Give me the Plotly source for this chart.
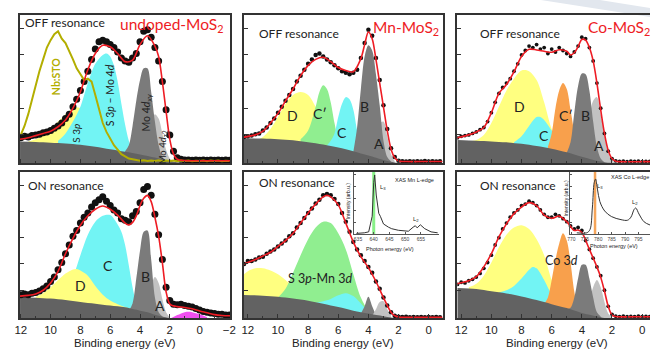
import plotly.graph_objects as go

W, H = 656, 349

# ---------------- energy grids (binding energy, eV) ----------------
DOT_E_A = [12.0, 11.75, 11.5, 11.25, 11.0, 10.75, 10.5, 10.25, 10.0, 9.75, 9.5, 9.25, 9.0, 8.75, 8.5, 8.25,
           8.0, 7.75, 7.5, 7.25, 7.0, 6.75, 6.5, 6.25, 6.0, 5.75, 5.5, 5.25, 5.0, 4.75, 4.5, 4.25, 4.0, 3.75,
           3.5, 3.25, 3.0, 2.75, 2.5, 2.25, 2.0, 1.75, 1.5, 1.25, 1.0, 0.75, 0.5, 0.25, 0.0, -0.25, -0.5,
           -0.75, -1.0, -1.25, -1.5, -1.75, -2.0]
DOT_E_B = [12.25, 12.0, 11.75, 11.5, 11.25, 11.0, 10.75, 10.5, 10.25, 10.0, 9.75, 9.5, 9.25, 9.0, 8.75, 8.5,
           8.25, 8.0, 7.75, 7.5, 7.25, 7.0, 6.75, 6.5, 6.25, 6.0, 5.75, 5.5, 5.25, 5.0, 4.75, 4.5, 4.25, 4.0,
           3.75, 3.5, 3.25, 3.0, 2.75, 2.5, 2.25, 2.0, 1.75, 1.5, 1.25, 1.0, 0.75, 0.5, 0.25, 0.0, -0.25,
           -0.5, -0.75]
DOT_E_C = DOT_E_B[:-1]

# ---------------- undoped MoS2, OFF resonance ----------------
U_OFF_DOT = [17, 18, 17.5, 18.5, 19, 19.5, 20.5, 21, 22, 23.5, 25, 27, 30, 33, 38, 43, 49, 55, 62, 70, 77,
             82, 83, 82, 80, 78, 75, 71, 69, 68, 71, 74, 82, 89, 90, 85, 78, 69, 55, 36, 19, 8, 3.5, 2.5, 2,
             2, 1.8, 2, 1.8, 2, 1.8, 2, 1.8, 2, 1.8, 2, 1.8]
U_OFF_FIT_E = [12.05, 11.5, 11.0, 10.5, 10.0, 9.5, 9.0, 8.5, 8.0, 7.5, 7.0, 6.5, 6.0, 5.5, 5.0, 4.5, 4.0,
               3.5, 3.0, 2.75, 2.5, 2.25, 2.0, 1.75, 1.5, 1.0, 0.0, -1.0, -2.05]
U_OFF_FIT = [16, 17, 18.5, 20, 21.5, 24.5, 29, 37, 48, 63, 74, 79.5, 78.5, 74, 68.5, 69.5, 80, 86, 79, 72,
             55, 35, 16, 6, 2.5, 1.6, 1.5, 1.5, 1.5]
NBSTO = [19, 25, 33, 43, 52, 62, 70, 78, 83, 87, 89, 84, 81, 76, 70, 64, 60, 56, 57, 55, 46, 36, 27, 21, 16,
         12, 9, 6, 4.5, 3, 2.5, 2, 1.5, 1.8, 1.3, 1.7, 1.4, 1.8, 1.2, 1.6, 1.3, 1.7, 1.2, 1.6, 1.3, 1.7, 1.2,
         1.5, 1.3, 1.7, 1.2, 1.6, 1.3, 1.6, 1.2, 1.5, 1.4]
U_OFF_BG_E = [12.05, 11, 10, 9, 8, 7, 6, 5, 4, 3, 2.5, 2, 1.5, 1, 0, -2.05]
U_OFF_BG = [14.5, 14.2, 13.7, 13.2, 12.3, 11, 9.3, 7.6, 5.8, 3.7, 2.5, 1.3, 0.5, 0.2, 0, 0]
U_OFF_S3P_E = [11.5, 11, 10.5, 10, 9.5, 9, 8.5, 8.25, 8, 7.5, 7, 6.5, 6, 5.5, 5, 4.5]
U_OFF_S3P = [14.5, 16, 19, 23, 28, 33, 37, 37.6, 37, 34, 28, 21, 15, 11, 8, 7]
U_OFF_SMO_E = [9.5, 9, 8.5, 8, 7.5, 7, 6.5, 6.25, 6, 5.75, 5.5, 5.25, 5, 4.75, 4.5, 4.25]
U_OFF_SMO = [15, 20, 28, 38, 54, 67, 73, 74, 72, 66, 55, 40, 26, 15, 8, 6]
U_OFF_DZ2_E = [3.75, 3.5, 3.25, 3.0, 2.75, 2.5, 2.25, 2.0, 1.75]
U_OFF_DZ2 = [5, 14, 26, 33, 30, 20, 9, 3, 0.5]
U_OFF_DXY_E = [5.0, 4.75, 4.5, 4.25, 4.0, 3.75, 3.5, 3.25, 3.0, 2.75, 2.5, 2.25]
U_OFF_DXY = [8, 12, 25, 42, 56, 64, 64, 48, 28, 12, 4, 1]

# ---------------- Mn-MoS2, OFF resonance ----------------
MN_OFF_DOT = [17.5, 18, 18.5, 19.5, 20, 22, 24, 27, 30, 34, 38, 42, 46, 50, 55, 59, 63, 67, 70, 73, 74, 72,
              70, 68, 66, 64, 62, 61, 60, 61, 63, 71, 81, 90, 86, 71, 56, 39, 23, 10, 4, 1.5, 1.2, 1, 1.2, 1,
              1.2, 1, 1.3, 1, 1.2, 1, 1.1]
MN_OFF_FIT_E = [12.26, 11.5, 11.0, 10.5, 10.0, 9.5, 9.0, 8.5, 8.0, 7.5, 7.0, 6.5, 6.0, 5.5, 5.0, 4.5, 4.25,
                4.0, 3.75, 3.5, 3.25, 3.0, 2.75, 2.5, 2.25, 2.0, 1.5, 0.0, -0.92]
MN_OFF_FIT = [17.5, 19, 21.5, 27, 33.5, 42, 50, 59, 66, 70, 71.4, 68.5, 64.5, 62.5, 61.7, 70.5, 80, 88.5,
              84, 70, 54, 38, 22, 9.5, 3.5, 1.3, 1, 1, 1]
MN_OFF_BG_E = [12.26, 11, 10, 9, 8, 7, 6, 5, 4, 3, 2.5, 2, -0.92]
MN_OFF_BG = [16.7, 16.5, 16, 15.3, 14, 12.5, 10.5, 8, 5, 2, 0.8, 0, 0]
MN_OFF_D_E = [11.25, 11.0, 10.5, 10.0, 9.5, 9.0, 8.5, 8.0, 7.5, 7.0, 6.5, 6.0, 5.5]
MN_OFF_D = [16, 17.5, 23, 31, 40, 46, 48, 46, 38, 27, 18, 13, 11]
MN_OFF_CP_E = [8.5, 8.0, 7.5, 7.25, 7.0, 6.75, 6.5, 6.25, 6.0, 5.75, 5.5]
MN_OFF_CP = [16, 22, 38, 48, 52.5, 50, 41, 27, 16, 11, 9.5]
MN_OFF_C_E = [6.75, 6.5, 6.25, 6.0, 5.75, 5.5, 5.25, 5.0, 4.75, 4.5, 4.25]
MN_OFF_C = [12, 15, 20, 31, 40, 44.5, 43, 36, 22, 11, 6.5]
MN_OFF_A_E = [4.0, 3.75, 3.5, 3.25, 3.0, 2.75, 2.5, 2.25]
MN_OFF_A = [5, 12, 20, 27, 28, 18, 6, 1]
MN_OFF_B_E = [5.0, 4.75, 4.5, 4.25, 4.0, 3.75, 3.5, 3.25, 3.0, 2.75, 2.5]
MN_OFF_B = [7.5, 24, 50, 72, 79.5, 76, 60, 39, 15, 4, 1]

# ---------------- Co-MoS2, OFF resonance ----------------
CO_OFF_DOT = [17, 18, 18.5, 19, 20, 21, 22.5, 24, 28, 34, 41, 47, 51, 54, 57, 62, 67, 73, 76, 79, 78, 80,
              77, 78, 74, 77, 75, 78, 76, 74, 72, 75, 79, 85, 84, 78, 69, 54, 37, 20, 8, 3, 1.5, 1, 1.3, 0.9,
              1.2, 1, 1.3, 0.9, 1.1, 1]
CO_OFF_FIT_E = [12.26, 11.5, 11.0, 10.5, 10.0, 9.5, 9.0, 8.5, 8.0, 7.5, 7.0, 6.5, 6.0, 5.5, 5.0, 4.75, 4.5,
                4.25, 4.0, 3.75, 3.5, 3.25, 3.0, 2.75, 2.5, 2.25, 2.0, 1.75, 1.5, 0.0, -0.52]
CO_OFF_FIT = [17, 19, 21, 24, 34, 47, 53, 61.5, 72, 76.8, 76.4, 75.5, 74.8, 76.5, 75.5, 73, 74.5, 78.6,
              83.5, 83, 78, 69, 54, 36, 20, 8.5, 3, 1.2, 0.9, 0.9, 0.9]
CO_OFF_BG_E = [12.26, 11, 10, 9, 8, 7, 6, 5, 4, 3, 2.5, 2, -0.52]
CO_OFF_BG = [15.5, 15, 14.6, 14, 13, 11.5, 9.7, 7.3, 4.2, 1.5, 0.5, 0, 0]
CO_OFF_D_E = [11.25, 11.0, 10.5, 10.0, 9.5, 9.0, 8.5, 8.0, 7.5, 7.0, 6.5, 6.0, 5.5, 5.0]
CO_OFF_D = [15, 15.5, 19, 27, 38, 49, 57, 62.5, 62, 56, 41, 23, 13, 8]
CO_OFF_C_E = [8.5, 8.0, 7.5, 7.0, 6.75, 6.5, 6.0, 5.5, 5.0, 4.5, 4.25]
CO_OFF_C = [14, 18, 25, 31, 31, 29, 22, 16, 10, 5.5, 4.5]
CO_OFF_CP_E = [6.25, 6.0, 5.75, 5.5, 5.25, 5.0, 4.75, 4.5, 4.25, 4.0]
CO_OFF_CP = [11, 20, 37, 49, 54, 50, 36, 21, 11, 6]
CO_OFF_A_E = [4.0, 3.75, 3.5, 3.25, 3.0, 2.75, 2.5, 2.25, 2.0, 1.75]
CO_OFF_A = [8, 16, 30, 42, 44.5, 33, 19, 7, 2, 0.3]
CO_OFF_B_E = [5.0, 4.75, 4.5, 4.25, 4.0, 3.75, 3.5, 3.25, 3.0, 2.75, 2.5]
CO_OFF_B = [7, 14, 34, 52, 60.5, 60, 49, 28, 11, 3, 0.5]

# ---------------- undoped MoS2, ON resonance ----------------
U_ON_DOT = [16, 16.5, 16, 17, 17.5, 18.5, 20, 22, 25, 28, 33, 38, 44, 50, 56, 60, 65, 69, 72, 76, 79, 81,
            83, 80, 77, 74, 72, 68, 67, 66, 70, 73, 79, 88, 90, 84, 71, 57, 40, 21, 12, 9.5, 9, 9.5, 8.5, 8,
            7.5, 6.5, 5.5, 4.5, 4, 3.5, 3, 2.5, 2.5, 2, 2]
U_ON_FIT_E = [12.05, 11.5, 11.0, 10.5, 10.0, 9.5, 9.0, 8.5, 8.0, 7.5, 7.0, 6.5, 6.0, 5.5, 5.0, 4.75, 4.5,
              4.25, 4.0, 3.75, 3.5, 3.25, 3.0, 2.75, 2.5, 2.25, 2.0, 1.75, 1.5, 1.0, 0.5, 0.0, -0.5, -1.0,
              -1.5, -2.05]
U_ON_FIT = [15, 15.5, 16.5, 19, 24, 32, 44, 54.5, 63.5, 70, 74.5, 76.7, 74.5, 70.5, 65, 63.8, 65.5, 70, 77,
            82, 84, 79.7, 69, 56, 38, 18, 9.5, 8.3, 7.8, 7.2, 6.3, 4.8, 3.6, 2.3, 1.7, 1.5]
U_ON_BG_E = [12.05, 11, 10, 9, 8, 7, 6, 5, 4, 3.5, 3, 2.5, 2, -2.05]
U_ON_BG = [14.6, 13.9, 13.3, 12.3, 11, 9.8, 8.5, 7.3, 5, 4, 2.3, 1, 0, 0]
U_ON_C_E = [9.5, 9.0, 8.5, 8.0, 7.5, 7.0, 6.5, 6.0, 5.5, 5.25, 5.0, 4.75, 4.5, 4.25, 4.0]
U_ON_C = [13, 18, 28, 43, 57, 66, 70, 70.5, 64, 59, 50, 36, 21, 10, 5]
U_ON_D_E = [11.0, 10.5, 10.0, 9.5, 9.0, 8.5, 8.25, 8.0, 7.5, 7.0, 6.5, 6.0, 5.5, 5.0, 4.5]
U_ON_D = [14.5, 17, 21, 26, 30.5, 33.3, 33.6, 32.5, 29, 22, 16, 12, 9.5, 7.5, 6]
U_ON_A_E = [3.75, 3.5, 3.25, 3.0, 2.75, 2.5, 2.25, 2.0]
U_ON_A = [4, 12, 22, 28, 24, 13, 4, 0.5]
U_ON_B_E = [4.75, 4.5, 4.25, 4.0, 3.75, 3.5, 3.25, 3.0, 2.75, 2.5]
U_ON_B = [5, 10, 27, 46, 59, 60, 40, 14, 4, 1]
U_ON_M_E = [1.9, 1.5, 1.0, 0.75, 0.5, 0.0, -0.5]
U_ON_M = [0, 2, 4, 4.3, 4, 2.5, 0.5]

# ---------------- Mn-MoS2, ON resonance ----------------
MN_ON_DOT = [37, 39, 39, 40, 41.5, 42, 44, 45.5, 47, 49, 51, 53, 56, 58, 62, 65, 68.5, 72, 75, 78.5, 81, 84,
             85, 84, 81.5, 78, 72, 66, 59, 52, 47, 43, 39, 35, 31, 25, 20, 14, 8.5, 4, 1.5, 0.8, 0.6, 0.8,
             0.5, 0.7, 0.5, 0.7, 0.5, 0.7, 0.5, 0.7, 0.5]
MN_ON_FIT_E = [12.26, 11.5, 11.0, 10.5, 10.0, 9.5, 9.0, 8.5, 8.0, 7.5, 7.0, 6.75, 6.5, 6.0, 5.5, 5.0, 4.5,
               4.0, 3.5, 3.0, 2.5, 2.25, 2.0, 1.5, 0.0, -0.92]
MN_ON_FIT = [37, 40, 42.5, 45, 49, 53, 58, 65, 72, 78, 83, 84, 83, 77.5, 65, 52, 42, 34.5, 25, 14, 4, 1.5,
             0.7, 0.5, 0.5, 0.5]
MN_ON_BG_E = [12.26, 11, 10, 9, 8, 7, 6, 5, 4, 3, 2.5, 2, -0.92]
MN_ON_BG = [15.8, 15.3, 14.5, 13.3, 11.8, 9.8, 7.5, 5, 3, 1.2, 0.3, 0, 0]
MN_ON_Y_E = [12.26, 12.0, 11.5, 11.0, 10.5, 10.0, 9.5, 9.0, 8.5, 8.0, 7.5]
MN_ON_Y = [30, 32, 34, 34, 32.5, 30, 26, 21, 17, 14, 12]
MN_ON_G_E = [10.0, 9.5, 9.0, 8.5, 8.0, 7.5, 7.0, 6.5, 6.0, 5.5, 5.0, 4.5, 4.0, 3.75]
MN_ON_G = [14, 20, 31, 43, 54, 62, 66, 65, 58, 47, 30, 14, 5, 3]
MN_ON_C_E = [7.5, 7.0, 6.5, 6.0, 5.5, 5.0, 4.5, 4.0, 3.75]
MN_ON_C = [10.5, 11.5, 13, 15.5, 17, 15, 10, 4.5, 3]
MN_ON_B_E = [4.5, 4.25, 4.0, 3.75, 3.5]
MN_ON_B = [3, 8, 14.5, 8, 2]
MN_ON_A_E = [3.75, 3.5, 3.25, 3.0, 2.75, 2.5]
MN_ON_A = [1.5, 6, 11, 11.5, 6, 1.5]

# ---------------- Co-MoS2, ON resonance ----------------
CO_ON_DOT = [23, 24.5, 24, 25.5, 26.5, 28, 30.5, 34, 38, 43, 50, 55, 61, 65, 69, 72, 74, 77, 78, 80, 79, 77,
             74, 71, 69, 69, 71, 70, 68, 66, 63, 61, 62, 60, 53, 47, 41, 35, 29, 19, 8, 2.5, 1.2, 1, 1.2,
             0.9, 1.1, 0.9, 1.2, 1, 1.1, 1]
CO_ON_FIT_E = [12.26, 11.5, 11.0, 10.5, 10.0, 9.5, 9.0, 8.5, 8.0, 7.5, 7.0, 6.5, 6.0, 5.5, 5.0, 4.5, 4.25,
               4.0, 3.5, 3.0, 2.75, 2.5, 2.25, 2.0, 1.75, 0.0, -0.52]
CO_ON_FIT = [23.5, 25.5, 28.3, 35, 44, 55.5, 64.5, 71.5, 76, 79, 77, 70.5, 68.3, 69.8, 66, 60, 60.3, 58.5,
             47, 35, 28, 18.5, 8, 2, 1, 0.9, 0.9]
CO_ON_BG_E = [12.26, 11, 10, 9, 8, 7, 6, 5, 4, 3, 2.5, 2, -0.52]
CO_ON_BG = [20.5, 19.8, 18.3, 16.8, 14.8, 12.3, 9.5, 6.8, 3.5, 1.2, 0, 0, 0]
CO_ON_Y_E = [11.5, 11.0, 10.5, 10.0, 9.5, 9.0, 8.5, 8.0, 7.5, 7.0, 6.5, 6.0, 5.5, 5.0, 4.5]
CO_ON_Y = [21, 23.5, 29, 38, 48.5, 57, 62, 63.5, 61, 54, 43, 26, 15, 9, 6]
CO_ON_C_E = [9.5, 9.0, 8.5, 8.0, 7.5, 7.25, 7.0, 6.5, 6.0, 5.5, 5.0, 4.5]
CO_ON_C = [17.5, 19, 22, 27, 33, 35, 34, 26, 16, 10, 6.5, 4.5]
CO_ON_O_E = [6.5, 6.25, 6.0, 5.75, 5.5, 5.25, 5.0, 4.75, 4.5, 4.25, 4.0]
CO_ON_O = [9.5, 14, 26, 40, 51, 58, 53, 38, 18, 6, 3.5]
CO_ON_A_E = [3.75, 3.5, 3.25, 3.0, 2.75, 2.5, 2.25, 2.0]
CO_ON_A = [4, 12, 21, 26, 21, 11, 3, 0.5]
CO_ON_B_E = [5.0, 4.75, 4.5, 4.25, 4.0, 3.75, 3.5, 3.25, 3.0, 2.75]
CO_ON_B = [6, 7, 14, 27, 36.5, 36.5, 27, 14, 4, 1]

# ---------------- XAS insets ----------------
MN_XAS_E = [634.5, 635.3, 637, 638.4, 639.5, 640.0, 640.3, 640.8, 641.6, 642.1, 643.1, 644.7, 645.7, 647.8,
            651.0, 652.5, 653.2, 653.8, 654.8, 656.2, 658.2, 660.3]
MN_XAS = [1, 1, 2, 3.6, 30, 87, 100, 66, 35, 30, 17, 11.5, 9, 6.3, 4.7, 11.5, 14, 10.4, 15.6, 9, 3.6, 2]
CO_XAS_E = [772, 775.7, 776.9, 777.8, 778.5, 779, 779.7, 780.6, 782.4, 784.9, 788.5, 790.9, 792.2, 793.4,
            794, 795.2, 797.1, 799.3]
CO_XAS = [2, 2, 7.4, 44, 87, 93, 76, 55, 39, 29.6, 24.3, 23.3, 28.6, 41.8, 44, 33.8, 20.6, 15.3]
BE_TICKS_A = [12, 10, 8, 6, 4, 2, 0, -2]
BE_TICKS_B = [12, 10, 8, 6, 4, 2, 0]
MN_XAS_TICKS = [635, 640, 645, 650, 655]
CO_XAS_TICKS = [770, 775, 780, 785, 790, 795]

# ---------------- styling ----------------
C_BG = "#626262"
C_B = "#7b7b7b"
C_A = "#c2c2c2"
C_Y = "#ffff80"
C_CY = "#72f4f4"
C_G = "#90ee90"
C_OR = "#f8a04c"
C_MG = "#f050f0"
C_RED = "#ee1c24"
C_OLIVE = "#b3ae00"
FRAME = "#333333"


def fx(px):
    return px / W


def fy(py):
    return 1 - py / H


fig = go.Figure()

PANELS = {
    1: dict(x=(15, 229), y=(15, 163), r=[12.07, -2.05], ticks=BE_TICKS_A, labels=False, right=True),
    2: dict(x=(243, 445), y=(15, 163), r=[12.26, -0.92], ticks=BE_TICKS_B, labels=False, right=True),
    3: dict(x=(460, 656), y=(15, 163), r=[12.26, -0.52], ticks=BE_TICKS_B, labels=False, right=False),
    4: dict(x=(15, 229), y=(172, 318), r=[12.07, -2.05], ticks=BE_TICKS_A, labels=True, right=True),
    5: dict(x=(243, 445), y=(172, 318), r=[12.26, -0.92], ticks=BE_TICKS_B, labels=True, right=True),
    6: dict(x=(460, 656), y=(172, 318), r=[12.26, -0.52], ticks=BE_TICKS_B, labels=True, right=False),
}


def names(k):
    s = "" if k == 1 else str(k)
    return "x" + s, "y" + s, "xaxis" + s, "yaxis" + s


def fill(k, E, I, color):
    xr, yr, _, _ = names(k)
    fig.add_trace(go.Scatter(x=E, y=I, xaxis=xr, yaxis=yr, mode="lines",
                             line=dict(width=0, shape="spline", smoothing=0.9, color=color),
                             fill="tozeroy", fillcolor=color, hoverinfo="skip", showlegend=False))


def dots(k, E, I, size):
    xr, yr, _, _ = names(k)
    fig.add_trace(go.Scatter(x=E, y=I, xaxis=xr, yaxis=yr, mode="markers",
                             marker=dict(size=size, color="#111111", line=dict(width=0)),
                             hoverinfo="skip", showlegend=False))


def fit(k, E, I):
    xr, yr, _, _ = names(k)
    fig.add_trace(go.Scatter(x=E, y=I, xaxis=xr, yaxis=yr, mode="lines",
                             line=dict(width=1.6, shape="spline", smoothing=0.9, color=C_RED),
                             hoverinfo="skip", showlegend=False))


# Panel 1 : undoped OFF
fill(1, U_OFF_S3P_E, U_OFF_S3P, C_Y)
fill(1, U_OFF_SMO_E, U_OFF_SMO, C_CY)
fill(1, U_OFF_DZ2_E, U_OFF_DZ2, C_A)
fill(1, U_OFF_DXY_E, U_OFF_DXY, C_B)
fill(1, U_OFF_BG_E, U_OFF_BG, C_BG)
dots(1, DOT_E_A, U_OFF_DOT, 7)
fig.add_trace(go.Scatter(x=DOT_E_A, y=NBSTO, mode="lines", line=dict(width=2, color=C_OLIVE),
                         hoverinfo="skip", showlegend=False))
fit(1, U_OFF_FIT_E, U_OFF_FIT)

# Panel 2 : Mn OFF
fill(2, MN_OFF_D_E, MN_OFF_D, C_Y)
fill(2, MN_OFF_CP_E, MN_OFF_CP, C_G)
fill(2, MN_OFF_C_E, MN_OFF_C, C_CY)
fill(2, MN_OFF_A_E, MN_OFF_A, C_A)
fill(2, MN_OFF_B_E, MN_OFF_B, C_B)
fill(2, MN_OFF_BG_E, MN_OFF_BG, C_BG)
dots(2, DOT_E_B, MN_OFF_DOT, 4.5)
fit(2, MN_OFF_FIT_E, MN_OFF_FIT)

# Panel 3 : Co OFF
fill(3, CO_OFF_D_E, CO_OFF_D, C_Y)
fill(3, CO_OFF_C_E, CO_OFF_C, C_CY)
fill(3, CO_OFF_CP_E, CO_OFF_CP, C_OR)
fill(3, CO_OFF_A_E, CO_OFF_A, C_A)
fill(3, CO_OFF_B_E, CO_OFF_B, C_B)
fill(3, CO_OFF_BG_E, CO_OFF_BG, C_BG)
dots(3, DOT_E_C, CO_OFF_DOT, 3.8)
fit(3, CO_OFF_FIT_E, CO_OFF_FIT)

# Panel 4 : undoped ON
fill(4, U_ON_C_E, U_ON_C, C_CY)
fill(4, U_ON_D_E, U_ON_D, C_Y)
fill(4, U_ON_A_E, U_ON_A, C_A)
fill(4, U_ON_B_E, U_ON_B, C_B)
fill(4, U_ON_M_E, U_ON_M, C_MG)
fill(4, U_ON_BG_E, U_ON_BG, C_BG)
dots(4, DOT_E_A, U_ON_DOT, 7)
fit(4, U_ON_FIT_E, U_ON_FIT)

# Panel 5 : Mn ON
fill(5, MN_ON_Y_E, MN_ON_Y, C_Y)
fill(5, MN_ON_G_E, MN_ON_G, C_G)
fill(5, MN_ON_C_E, MN_ON_C, C_CY)
fill(5, MN_ON_B_E, MN_ON_B, C_B)
fill(5, MN_ON_A_E, MN_ON_A, C_A)
fill(5, MN_ON_BG_E, MN_ON_BG, C_BG)
dots(5, DOT_E_B, MN_ON_DOT, 4.5)
fit(5, MN_ON_FIT_E, MN_ON_FIT)

# Panel 6 : Co ON
fill(6, CO_ON_Y_E, CO_ON_Y, C_Y)
fill(6, CO_ON_C_E, CO_ON_C, C_CY)
fill(6, CO_ON_O_E, CO_ON_O, C_OR)
fill(6, CO_ON_A_E, CO_ON_A, C_A)
fill(6, CO_ON_B_E, CO_ON_B, C_B)
fill(6, CO_ON_BG_E, CO_ON_BG, C_BG)
dots(6, DOT_E_C, CO_ON_DOT, 3.8)
fit(6, CO_ON_FIT_E, CO_ON_FIT)

# Insets
fig.add_trace(go.Scatter(x=[640, 640], y=[0, 105], xaxis="x7", yaxis="y7", mode="lines",
                         line=dict(width=3, color="#88f088"), hoverinfo="skip", showlegend=False))
fig.add_trace(go.Scatter(x=MN_XAS_E, y=MN_XAS, xaxis="x7", yaxis="y7", mode="lines",
                         line=dict(width=1, color="#333333"), hoverinfo="skip", showlegend=False))
fig.add_trace(go.Scatter(x=[778.8, 778.8], y=[0, 105], xaxis="x8", yaxis="y8", mode="lines",
                         line=dict(width=2.5, color="#f5a55a"), hoverinfo="skip", showlegend=False))
fig.add_trace(go.Scatter(x=CO_XAS_E, y=CO_XAS, xaxis="x8", yaxis="y8", mode="lines",
                         line=dict(width=1, color="#333333", shape="spline"), hoverinfo="skip",
                         showlegend=False))

layout = dict(width=W, height=H, margin=dict(l=0, r=0, t=0, b=0), paper_bgcolor="white",
              plot_bgcolor="rgba(0,0,0,0)", showlegend=False,
              font=dict(family="Liberation Sans, Arial, sans-serif", color="#222222"))

for k, p in PANELS.items():
    xr, yr, xa, ya = names(k)
    layout[xa] = dict(domain=[fx(p["x"][0]), fx(p["x"][1])], range=p["r"], anchor=yr,
                      showline=True, mirror=True, linecolor=FRAME, linewidth=2,
                      ticks="inside", ticklen=4, tickwidth=1, tickcolor=FRAME,
                      tickvals=p["ticks"], showticklabels=p["labels"],
                      tickfont=dict(size=11.5, color="#222222", family="Liberation Sans, Arial"),
                      minor=dict(ticks="inside", dtick=1, ticklen=2, tickcolor=FRAME),
                      showgrid=False, zeroline=False, fixedrange=True)
    layout[ya] = dict(domain=[fy(p["y"][1]), fy(p["y"][0])], range=[0, 100], anchor=xr,
                      showline=True, mirror=p["right"], linecolor=FRAME, linewidth=2,
                      ticks="inside", ticklen=4, tickcolor=FRAME, tickvals=[19, 37, 55, 73, 91],
                      showticklabels=False, showgrid=False, zeroline=False, fixedrange=True)

inset_common = dict(showline=True, linecolor="#555555", linewidth=0.8, ticks="inside", ticklen=2,
                    tickcolor="#555555", showgrid=False, zeroline=False)
layout["xaxis7"] = dict(domain=[fx(355), fx(441)], range=[633.75, 660.6], anchor="y7",
                        tickvals=MN_XAS_TICKS, tickfont=dict(size=5, color="#444444"), **inset_common)
layout["yaxis7"] = dict(domain=[fy(234), fy(172)], range=[0, 105], anchor="x7",
                        showticklabels=False, tickvals=[20, 40, 60, 80, 100], **inset_common)
layout["xaxis8"] = dict(domain=[fx(575), fx(656)], range=[769.6, 799.3], anchor="y8",
                        tickvals=CO_XAS_TICKS, tickfont=dict(size=5, color="#444444"), **inset_common)
layout["yaxis8"] = dict(domain=[fy(234), fy(172)], range=[0, 105], anchor="x8",
                        showticklabels=False, tickvals=[20, 40, 60, 80, 100], **inset_common)

fig.update_layout(**layout)

LATO = "Lato, Open Sans, sans-serif"


def note(text, px, py, size, color="#222222", anchor="center", angle=0, family=LATO):
    fig.add_annotation(text=text, x=fx(px), y=fy(py), xref="paper", yref="paper", showarrow=False,
                       xanchor=anchor, yanchor="middle", textangle=angle, borderpad=0,
                       font=dict(size=size, color=color, family=family))


# Panel texts
note("OFF resonance", 19, 23, 12, anchor="left")
note("undoped-MoS<sub>2</sub>", 116, 25, 15.5, color=C_RED, anchor="left")
note("<b>Nb:STO</b>", 52, 77, 10.5, color=C_OLIVE, angle=-90)
note("S 3<i>p</i>", 72, 133, 10, angle=-90)
note("S 3<i>p</i> – Mo 4<i>d</i>", 107, 95, 10.5, angle=-90)
note("Mo 4<i>d</i><sub>xy</sub>", 144, 113, 10.5, angle=-90)
note("Mo 4<i>d</i><sub>z2</sub>", 161, 147, 9.5, angle=-90)

note("OFF resonance", 257, 33, 12, anchor="left")
note("Mn-MoS<sub>2</sub>", 373, 28, 15.5, color=C_RED, anchor="left")
for t, px, py in [("D", 292, 115), ("C′", 320, 113), ("C", 343, 132), ("B", 366, 106), ("A", 380, 143)]:
    note(t, px, py, 14)

note("OFF resonance", 482, 33, 12, anchor="left")
note("Co-MoS<sub>2</sub>", 592, 28, 15.5, color=C_RED, anchor="left")
for t, px, py in [("D", 523, 106), ("C", 548, 135), ("C′", 571, 115), ("B", 590, 115), ("A", 604, 145)]:
    note(t, px, py, 14)

note("ON resonance", 22, 185, 12, anchor="left")
for t, px, py in [("C", 105, 265), ("D", 77, 285), ("B", 143, 276), ("A", 158, 305)]:
    note(t, px, py, 14)

note("ON resonance", 257, 183, 12, anchor="left")
note("S 3<i>p</i>-Mn 3<i>d</i>", 320, 278, 12.5)

note("ON resonance", 482, 185, 12, anchor="left")
note("Co 3<i>d</i>", 566, 260, 12.5)

# inset texts
INSET_FONT = "Liberation Sans"
note("XAS Mn L-edge", 416, 180, 5.5, family=INSET_FONT)
note("L<sub>3</sub>", 384, 187, 6, family=INSET_FONT)
note("L<sub>2</sub>", 418, 219, 6, family=INSET_FONT)
note("Photon energy (eV)", 392, 249, 5.5, family=INSET_FONT)
note("Intensity (arb.u.)", 349, 201, 5, angle=-90, family=INSET_FONT)
note("XAS Co L-edge", 636, 177, 5.5, family=INSET_FONT)
note("L<sub>3</sub>", 605, 186, 6, family=INSET_FONT)
note("L<sub>2</sub>", 641, 203, 6, family=INSET_FONT)
note("Photon energy (eV)", 619, 246, 5.5, family=INSET_FONT)
note("Intensity (arb.u.)", 571, 198, 5, angle=-90, family=INSET_FONT)

# axis titles
for cx in (122, 344, 561):
    note("Binding energy (eV)", cx, 342.6, 11.5, color="#222222", family="Liberation Sans, Arial")

# faint watermark stroke at the top right
fig.add_shape(type="path", path=f"M {fx(545)} {fy(0)} L {fx(605)} {fy(0)} L {fx(656)} {fy(8)} L {fx(656)} {fy(17)} Z",
              xref="paper", yref="paper", fillcolor="#e2e7ee", line=dict(width=0), layer="below")

fig.write_html("out.html", include_plotlyjs=True, full_html=True, config={"displayModeBar": False},
               post_script="document.body.style.margin='0';document.body.style.overflow='hidden';")
